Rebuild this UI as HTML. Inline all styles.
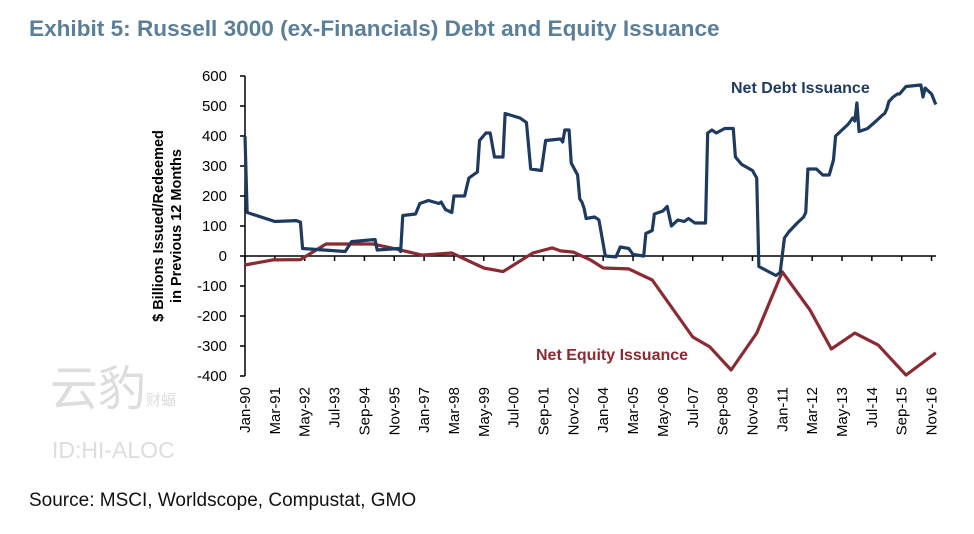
<!DOCTYPE html>
<html><head><meta charset="utf-8"><style>
body{margin:0;background:#fff;width:974px;height:534px;overflow:hidden;font-family:"Liberation Sans","Noto Sans CJK SC",sans-serif}
svg{position:absolute;left:0;top:0}
</style></head><body>
<svg id="chart" width="974" height="534">
<text x="29" y="36" font-size="22.6" font-weight="bold" fill="#5b7f99">Exhibit 5: Russell 3000 (ex-Financials) Debt and Equity Issuance</text>
<text transform="translate(163,226) rotate(-90)" text-anchor="middle" font-size="14.5" font-weight="bold" fill="#000"><tspan x="0" dy="0">$ Billions Issued/Redeemed</tspan><tspan x="0" dy="18">in Previous 12 Months</tspan></text>
<text x="50" y="405" font-size="48" fill="#ddd" font-family="'Noto Sans CJK SC',sans-serif">云豹<tspan font-size="15">财蝠</tspan></text>
<text x="52" y="458" font-size="23" fill="#ddd">ID:HI-ALOC</text>
<text x="29" y="506" font-size="19" fill="#111">Source: MSCI, Worldscope, Compustat, GMO</text>
<text x="731" y="93" font-size="16" font-weight="bold" fill="#1f3a5f">Net Debt Issuance</text>
<text x="536" y="360" font-size="16" font-weight="bold" fill="#8b2a32">Net Equity Issuance</text>
<g id="g"></g>
</svg>
<script>
const yTicks=[600,500,400,300,200,100,0,-100,-200,-300,-400];
const xTickLabels=["Jan-90","Mar-91","May-92","Jul-93","Sep-94","Nov-95","Jan-97","Mar-98","May-99","Jul-00","Sep-01","Nov-02","Jan-04","Mar-05","May-06","Jul-07","Sep-08","Nov-09","Jan-11","Mar-12","May-13","Jul-14","Sep-15","Nov-16"];
const debtMonths=[0,1,14,24,26,27,47,50,61,62,72,73,74,80,82,86,91,92,94,97,98,103,105,109,110,113,115,117,121,122,129,132,134,139,141,148,149,150,152,153,156,157,158,159,160,164,166,169,174,176,180,182,187,188,191,192,196,198,200,203,206,208,211,216,217,219,221,225,229,230,233,238,240,241,245,249,251,253,255,259,262,263,264,268,271,274,276,277,280,283,285,286,287,288,292,296,299,300,301,302,304,306,307,310,317,318,319,322,324];
const debtValues=[400,145,115,118,113,25,15,48,55,20,25,15,135,140,175,185,175,180,155,145,200,200,260,280,385,410,410,330,330,475,460,445,290,285,385,390,380,420,420,310,270,190,180,160,125,130,120,0,-3,30,25,5,0,75,85,140,150,165,100,120,115,125,110,110,410,420,410,425,425,330,305,285,260,-35,-50,-65,-55,60,80,110,130,145,290,290,270,270,320,400,420,440,460,450,510,415,425,450,470,475,490,515,530,540,540,565,570,530,560,540,505];
const eqMonths=[0,13,26,38,60,71,83,97,112,121,135,144,148,154,162,168,180,191,210,218,228,240,252,265,275,286,297,310,324];
const eqValues=[-30,-13,-12,40,40,23,3,10,-40,-52,10,27,17,13,-13,-40,-43,-80,-270,-303,-380,-257,-53,-180,-310,-257,-297,-397,-323];
const X0=245,PXM=29.85/14,Y0=256,PXV=0.3;
const xs=m=>X0+m*PXM, ys=v=>Y0-v*PXV;
const g=document.getElementById('g'),NS="http://www.w3.org/2000/svg";
function mk(t,a){const e=document.createElementNS(NS,t);for(const k in a)e.setAttribute(k,a[k]);g.appendChild(e);return e;}
yTicks.forEach(v=>{
 const l=mk('line',{x1:240,x2:245,y1:ys(v),y2:ys(v),stroke:'#000','stroke-width':1.5});
 
 
 const t=mk('text',{x:227,y:ys(v)+5,'text-anchor':'end','font-size':15,fill:'#000'});t.textContent=v;
 
 
});
const ya=mk('line',{x1:245,x2:245,y1:ys(600),y2:ys(-400),stroke:'#000','stroke-width':1.5});


xTickLabels.forEach((s,i)=>{
 const x=xs(i*14);
 const l=mk('line',{x1:x,x2:x,y1:Y0,y2:Y0+5,stroke:'#000','stroke-width':1.5});
 
 
 const t=mk('text',{transform:`translate(${x+5},387) rotate(-90)`,'text-anchor':'end','font-size':15,fill:'#000'});t.textContent=s;
 
 
});
const xa=mk('line',{x1:245,x2:936,y1:Y0,y2:Y0,stroke:'#000','stroke-width':1.5});


const eq=mk('polyline',{points:eqMonths.map((m,i)=>xs(m)+','+ys(eqValues[i])).join(' '),fill:'none',stroke:'#8b2a32','stroke-width':3.2,'stroke-linejoin':'round'});


const db=mk('polyline',{points:debtMonths.map((m,i)=>xs(m)+','+ys(debtValues[i])).join(' '),fill:'none',stroke:'#1f3a5f','stroke-width':3.2,'stroke-linejoin':'round'});


</script>
</body></html>
